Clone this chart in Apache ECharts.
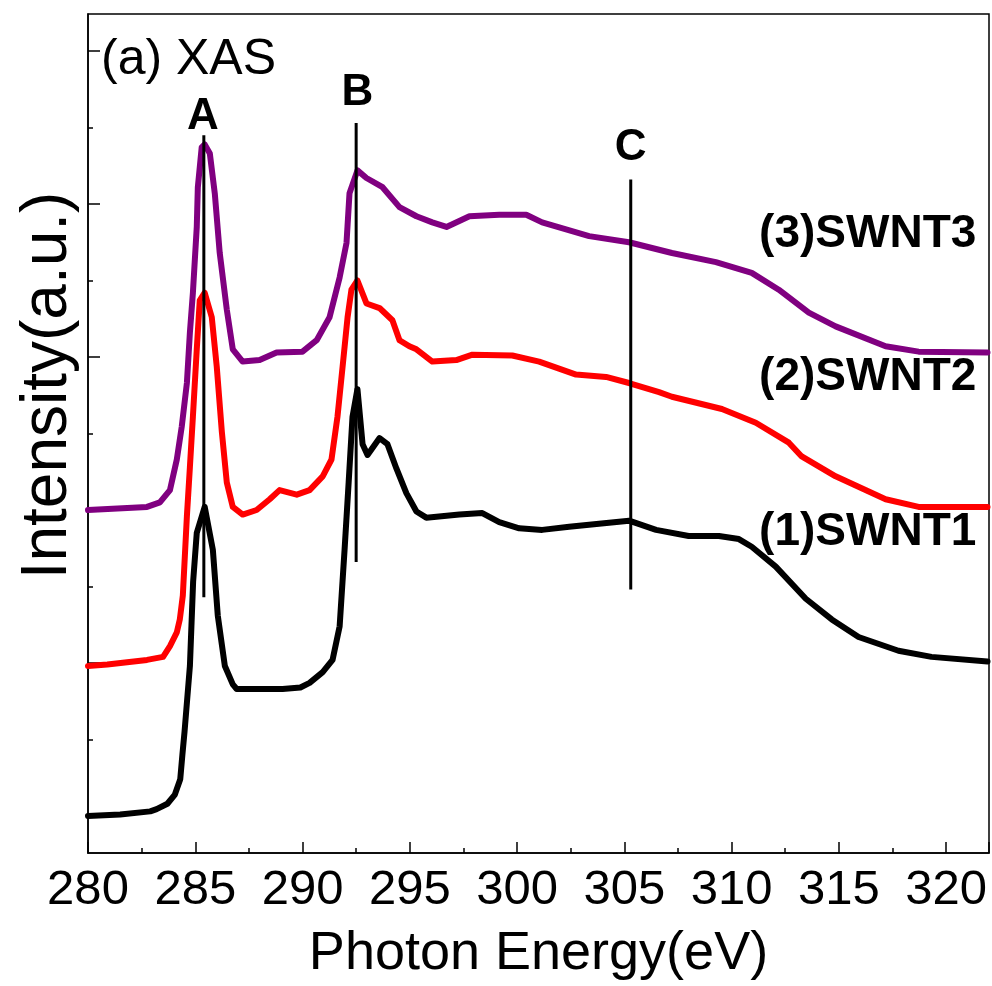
<!DOCTYPE html>
<html>
<head>
<meta charset="utf-8">
<script src="https://cdn.jsdelivr.net/npm/echarts@6/dist/echarts.min.js"></script>
<style>
html,body{margin:0;padding:0;background:#fff;}
#chart{width:992px;height:986px;}
</style>
</head>
<body>
<div id="chart"></div>
<script>
// ---- data ----
const swnt1Energy = [280.0,281.5,282.9,283.2,283.7,284.05,284.3,284.4,284.5,284.75,284.9,285.07,285.44,285.82,286.05,286.38,286.75,286.93,288.0,289.07,289.9,290.33,290.94,291.4,291.73,291.96,292.15,292.33,292.56,292.8,293.03,293.59,293.96,294.38,294.84,295.31,295.77,297.31,298.38,299.17,300.1,301.17,302.43,303.82,305.22,306.48,308.0,309.41,310.34,310.94,312.06,313.46,314.67,315.92,317.78,319.32,321.93];
const swnt1Intensity = [1.00,1.01,1.03,1.045,1.08,1.14,1.24,1.40,1.55,1.98,2.53,2.85,3.02,2.74,2.31,1.98,1.86,1.83,1.83,1.83,1.84,1.87,1.94,2.02,2.24,2.74,3.18,3.61,3.79,3.43,3.36,3.47,3.43,3.27,3.11,2.99,2.95,2.97,2.98,2.92,2.88,2.87,2.89,2.91,2.93,2.87,2.83,2.83,2.81,2.76,2.63,2.42,2.285,2.17,2.08,2.04,2.01];

const swnt2Energy = [280.0,280.9,282.75,283.5,283.82,284.14,284.28,284.42,284.61,284.75,284.89,285.07,285.21,285.44,285.77,286.0,286.24,286.47,286.75,287.21,287.86,288.47,288.93,289.73,290.33,290.94,291.35,291.63,291.87,292.1,292.28,292.56,292.98,293.59,294.19,294.52,294.98,295.31,296.05,297.17,297.92,299.78,301.03,302.75,304.15,305.22,306.62,307.22,309.55,311.13,312.67,313.27,314.85,317.18,318.72,321.93];
const swnt2Intensity = [1.98,1.99,2.02,2.04,2.11,2.20,2.285,2.44,2.96,3.28,3.61,4.05,4.37,4.42,4.26,3.94,3.51,3.18,3.02,2.97,3.00,3.07,3.13,3.10,3.13,3.22,3.33,3.61,3.94,4.26,4.44,4.50,4.35,4.32,4.24,4.11,4.07,4.05,3.97,3.98,4.015,4.01,3.97,3.885,3.87,3.83,3.77,3.74,3.66,3.57,3.44,3.35,3.22,3.07,3.02,3.02];

const swnt3Energy = [280.0,282.75,283.35,283.82,284.14,284.37,284.61,284.75,284.89,285.07,285.12,285.3,285.44,285.68,285.91,286.14,286.47,286.75,287.21,288.0,288.79,290.0,290.66,291.26,291.73,292.05,292.19,292.56,292.98,293.73,294.52,295.31,296.05,296.71,297.78,299.17,300.43,301.17,303.36,305.22,307.22,309.27,310.94,312.2,313.6,314.85,317.18,318.72,321.93];
const swnt3Intensity = [3.00,3.02,3.05,3.13,3.33,3.545,3.83,4.16,4.42,4.85,5.11,5.37,5.39,5.33,5.07,4.68,4.31,4.05,3.97,3.98,4.03,4.035,4.11,4.26,4.52,4.745,5.07,5.22,5.17,5.11,4.98,4.92,4.88,4.85,4.92,4.93,4.93,4.88,4.79,4.75,4.68,4.62,4.55,4.44,4.29,4.20,4.07,4.035,4.03];

// peak marker lines: energy, bottom and top intensity
const markerNames = ['A','B','C'];
const markerEnergy = [285.4, 292.5, 305.3];
const markerBottom = [2.43, 2.66, 2.48];
const markerTop = [5.45, 5.53, 5.16];
const markerLabelEnergy = [285.35, 292.56, 305.3];
const markerLabelIntensity = [5.57, 5.725, 5.366];

// curve name labels
const curveNames = ['(3)SWNT3','(2)SWNT2','(1)SWNT1'];
const curveLabelEnergy = [321.41, 321.41, 321.41];
const curveLabelIntensity = [4.80, 3.865, 2.853];

const xTicks = [280,285,290,295,300,305,310,315,320];
const yMajorTicks = [1,2,3,4,5,6];
const yMinorTicks = [1.5,2.5,3.5,4.5,5.5];

const xMin = 280, xMax = 322, yMin = 0.758, yMax = 6.242;
const titleText = '(a) XAS';
const xName = 'Photon Energy(eV)';
const yName = 'Intensity(a.u.)';

function zip(a,b){ return a.map((v,i)=>[v,b[i]]); }

const FONT = '"Liberation Sans", Arial, sans-serif';
const chart = echarts.init(document.getElementById('chart'), null, {renderer:'canvas'});

const lineSeries = (name, xs, ys, color) => ({
  name, type:'line', data: zip(xs, ys), showSymbol:false, symbol:'none',
  lineStyle:{color, width:6, join:'round', cap:'round'}, animation:false, z:2
});

const markerSeries = markerEnergy.map((e,i)=>({
  type:'line', data:[[e, markerBottom[i]],[e, markerTop[i]]], symbol:'none',
  lineStyle:{color:'#000', width:3}, animation:false, z:5
}));

const labelStyle = (size, pos) => ({
  show:true, position:pos, distance:0, formatter:p=>p.name,
  fontFamily:FONT, fontSize:size, fontWeight:'bold', color:'#000',
  opacity:1, textBorderWidth:0
});

const option = {
  animation:false,
  backgroundColor:'#fff',
  title:{text:titleText, left:96, top:30, textStyle:{fontFamily:FONT, fontSize:50, fontWeight:'normal', color:'#000'}},
  grid:{left:88, right:3, top:14, bottom:132, show:true, borderColor:'#000', borderWidth:1.5, backgroundColor:'transparent'},
  xAxis:{
    type:'value', min:xMin, max:xMax, interval:5,
    name:xName, nameLocation:'middle', nameGap:74,
    nameTextStyle:{fontFamily:FONT, fontSize:54, color:'#000'},
    axisLine:{show:true, lineStyle:{color:'#000', width:1.5}},
    axisTick:{show:true, inside:true, length:11, lineStyle:{color:'#000', width:1.5}},
    minorTick:{show:true, splitNumber:2, length:5, lineStyle:{color:'#000', width:1.5}},
    splitLine:{show:false},
    axisLabel:{fontFamily:FONT, fontSize:49, color:'#000', margin:13,
      customValues:xTicks, formatter:v=>String(v)}
  },
  yAxis:[{
    type:'value', min:yMin, max:yMax,
    name:yName, nameLocation:'middle', nameGap:8,
    nameTextStyle:{fontFamily:FONT, fontSize:64, color:'#000', padding:[0,0,0,96]},
    axisLine:{show:true, lineStyle:{color:'#000', width:1.5}},
    axisTick:{show:true, inside:true, length:12, customValues:yMajorTicks, lineStyle:{color:'#000', width:1.5}},
    axisLabel:{show:false},
    splitLine:{show:false}
  },{
    type:'value', min:yMin, max:yMax, position:'left',
    axisLine:{show:false},
    axisTick:{show:true, inside:true, length:5, customValues:yMinorTicks, lineStyle:{color:'#000', width:1.5}},
    axisLabel:{show:false},
    splitLine:{show:false}
  }],
  series:[
    lineSeries('SWNT3', swnt3Energy, swnt3Intensity, '#800080'),
    lineSeries('SWNT2', swnt2Energy, swnt2Intensity, '#ff0000'),
    lineSeries('SWNT1', swnt1Energy, swnt1Intensity, '#000000'),
    ...markerSeries,
    {
      type:'scatter', symbolSize:0, animation:false, z:6,
      itemStyle:{opacity:1, color:'#000'},
      emphasis:{disabled:true},
      data: markerNames.map((n,i)=>({value:[markerLabelEnergy[i], markerLabelIntensity[i]], name:n})),
      label:labelStyle(44, 'inside')
    },
    {
      type:'scatter', symbolSize:0, animation:false, z:6,
      itemStyle:{opacity:1, color:'#000'},
      emphasis:{disabled:true},
      data: curveNames.map((n,i)=>({value:[curveLabelEnergy[i], curveLabelIntensity[i]], name:n})),
      label:labelStyle(46, 'left')
    }
  ]
};
chart.setOption(option);
</script>
</body>
</html>
